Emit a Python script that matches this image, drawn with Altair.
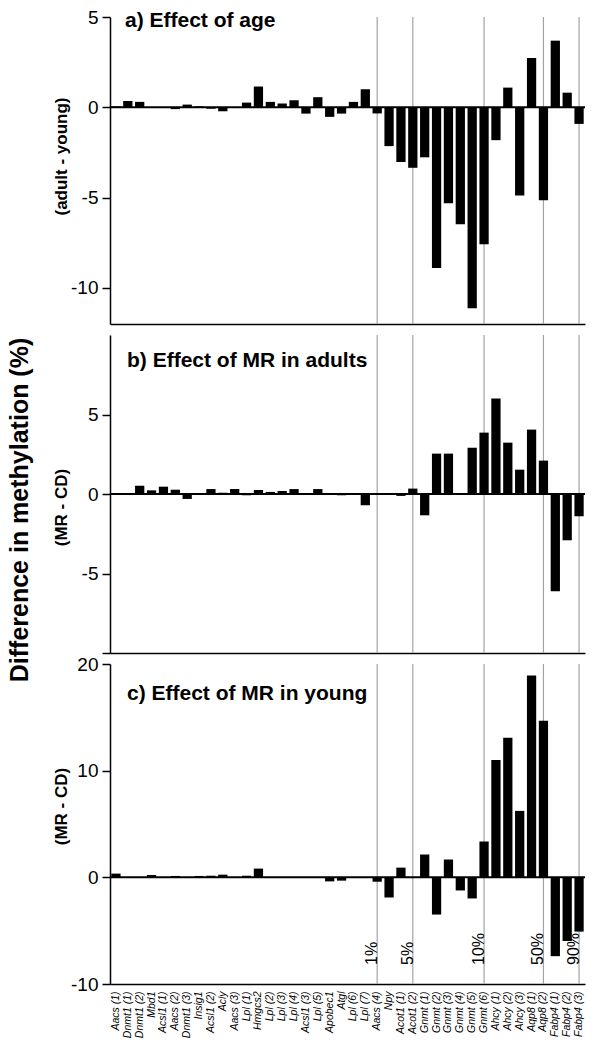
import altair as alt
import pandas as pd

FONT = "Liberation Sans, Arial, Helvetica, sans-serif"

genes = ["Aacs (1)", "Dnmt1 (1)", "Dnmt1 (2)", "Mbd1", "Acsl1 (1)", "Aacs (2)",
         "Dnmt1 (3)", "Insig1", "Acsl1 (2)", "Acly", "Aacs (3)", "Lpl (1)", "Hmgcs2",
         "Lpl (2)", "Lpl (3)", "Lpl (4)", "Acsl1 (3)", "Lpl (5)", "Apobec1", "Atgl",
         "Lpl (6)", "Lpl (7)", "Aacs (4)", "Npy", "Acot1 (1)", "Acot1 (2)", "Gnmt (1)",
         "Gnmt (2)", "Gnmt (3)", "Gnmt (4)", "Gnmt (5)", "Gnmt (6)", "Ahcy (1)",
         "Ahcy (2)", "Ahcy (3)", "Aqp8 (1)", "Aqp8 (2)", "Fabp4 (1)", "Fabp4 (2)",
         "Fabp4 (3)"]

# a) adult - young
effect_age = [0.05, 0.35, 0.30, 0.0, 0.0, -0.10, 0.15, 0.05, -0.08, -0.22,
              0.0, 0.26, 1.15, 0.30, 0.21, 0.39, -0.35, 0.56, -0.53, -0.35,
              0.30, 1.00, -0.34, -2.15, -3.03, -3.35, -2.77, -8.90, -5.31, -6.47,
              -11.13, -7.58, -1.82, 1.09, -4.89, 2.73, -5.15, 3.69, 0.81, -0.92]
# b) MR - CD in adults
effect_mr_adult = [0.05, 0.06, 0.52, 0.23, 0.46, 0.27, -0.31, 0.06, 0.31, 0.08,
                   0.31, -0.08, 0.25, 0.13, 0.19, 0.31, 0.02, 0.31, 0.0, -0.08,
                   0.06, -0.71, 0.0, 0.0, -0.12, 0.34, -1.34, 2.54, 2.54, 0.0,
                   2.91, 3.86, 6.00, 3.23, 1.53, 4.05, 2.10, -6.12, -2.91, -1.40]
# c) MR - CD in young
effect_mr_young = [0.35, 0.0, 0.0, 0.22, 0.0, 0.13, 0.0, 0.13, 0.15, 0.25,
                   0.0, 0.15, 0.82, 0.0, 0.0, 0.0, 0.0, 0.0, -0.38, -0.31,
                   0.0, 0.0, -0.41, -1.89, 0.91, 0.0, 2.14, -3.49, 1.67, -1.23,
                   -1.98, 3.36, 11.00, 13.08, 6.23, 18.93, 14.69, -7.39, -5.97, -5.09]

threshold_genes = ["Aacs (4)", "Acot1 (2)", "Gnmt (6)", "Aqp8 (2)", "Fabp4 (3)"]
threshold_labels = ["1%", "5%", "10%", "50%", "90%"]

panel_titles = ["a) Effect of age", "b) Effect of MR in adults", "c) Effect of MR in young"]
axis_titles = ["(adult - young)", "(MR - CD)", "(MR - CD)"]
main_title = "Difference in methylation (%)"

df = pd.DataFrame({"gene": genes, "age": effect_age,
                   "adult": effect_mr_adult, "young": effect_mr_young})
thr = pd.DataFrame({"gene": threshold_genes, "pct": threshold_labels})

W = 475
xscale = alt.Scale(paddingInner=0.22, paddingOuter=0.11)


def panel(col, domain, ticks, idx, height, sub_y, title_y, title_x, bottom=False,
          label_expr="'' + datum.value", with_main=False):
    if bottom:
        xaxis = alt.Axis(labelAngle=270, labelFontStyle="italic", labelFontSize=10.5,
                         labelPadding=7, ticks=False, title=None, labelOverlap=False,
                         labelBound=False)
    else:
        xaxis = alt.Axis(labels=False, ticks=False, title=None)
    xenc = alt.X("gene:N", sort=genes, scale=xscale, axis=xaxis)
    yscale = alt.Scale(domain=domain, nice=False, zero=True)
    yaxis = alt.Axis(values=ticks, title=axis_titles[idx], titleX=-40, titleY=sub_y,
                     titleAngle=270, titleAlign="center", titleBaseline="bottom",
                     labelExpr=label_expr)

    rules = alt.Chart(thr).mark_rule(color="#a3a3a3").encode(
        x=xenc,
        strokeWidth=alt.StrokeWidth("pct:N", scale=alt.Scale(
            domain=threshold_labels, range=[1.2, 1.2, 4, 5, 6]), legend=None),
    )
    bars = alt.Chart(df).mark_bar(color="black").encode(
        x=xenc,
        y=alt.Y(f"{col}:Q", scale=yscale, axis=yaxis),
    )
    zero = alt.Chart(pd.DataFrame({"z": [0]})).mark_rule(
        color="black", strokeWidth=2).encode(y=alt.Y("z:Q", scale=yscale, axis=yaxis))
    title = alt.Chart(pd.DataFrame({"t": [panel_titles[idx]]})).mark_text(
        align="left", baseline="alphabetic", fontSize=21, fontWeight="bold",
        font=FONT, color="black").encode(
        text="t:N", x=alt.value(title_x), y=alt.value(title_y))
    layers = [rules]
    if bottom:
        pct = alt.Chart(thr).mark_text(
            angle=270, align="left", baseline="alphabetic", fontSize=16,
            font=FONT, color="black").encode(
            x=xenc, y=alt.value(301), text="pct:N")
        layers.append(pct)
    layers += [bars, zero, title]
    if with_main:
        mt = alt.Chart(pd.DataFrame({"t": [main_title]})).mark_text(
            angle=270, align="center", baseline="top", fontSize=25,
            fontWeight="bold", font=FONT, color="black").encode(
            text="t:N", x=alt.value(-102), y=alt.value(175))
        layers.append(mt)
    return alt.layer(*layers).properties(width=W, height=height)


pa = panel("age", [-12, 5], [-10, -5, 0, 5], 0, 307, 139, 10, 15)
pb = panel("adult", [-10, 10], [-10, -5, 0, 5], 1, 318, 172, 32, 17,
           label_expr="datum.value == -10 ? '' : '' + datum.value", with_main=True)
pc = panel("young", [-10, 20], [-10, 0, 10, 20], 2, 320, 142, 36, 17, bottom=True)

chart = alt.vconcat(pa, pb, pc, spacing=11, bounds="flush").properties(
    padding=0
).configure_view(strokeWidth=0).configure_axis(
    domainColor="black", domainWidth=1.5, tickColor="black", tickWidth=1.5,
    tickSize=8, labelColor="black", labelFont=FONT, labelFontSize=19,
    labelPadding=4, titleFont=FONT, titleFontSize=17, titleFontWeight="bold",
    titleColor="black", grid=False,
)

chart.save("out.html", embed_options={"renderer": "svg", "actions": False})
